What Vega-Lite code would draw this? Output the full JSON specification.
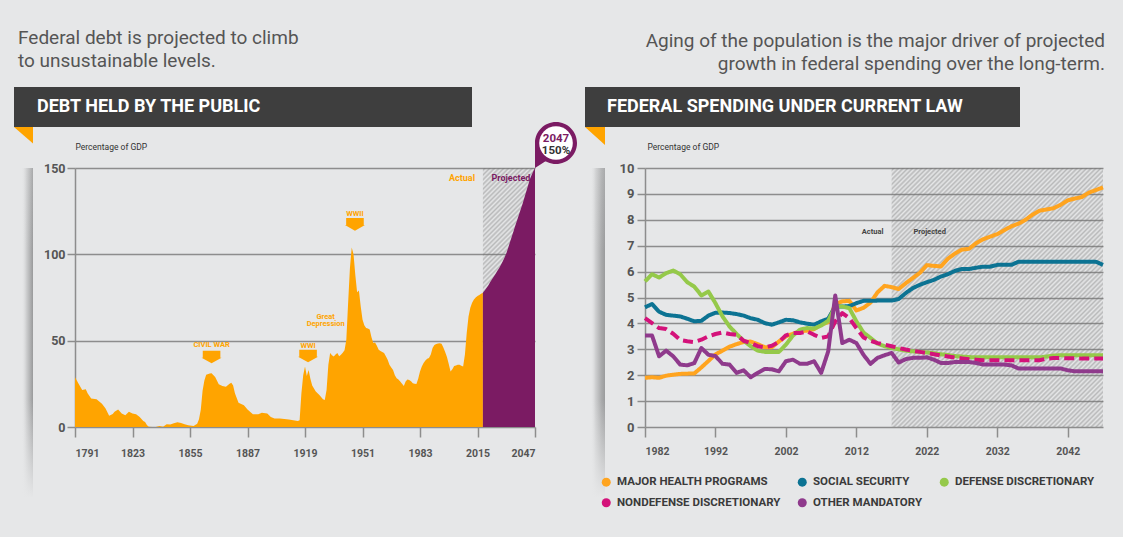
{
  "$schema": "https://vega.github.io/schema/vega-lite/v6.json",
  "background": "#e6e7e8",
  "padding": {"left": 14, "top": 28, "right": 18, "bottom": 28},
  "bounds": "flush",
  "spacing": 81,
  "resolve": {"scale": {"color": "independent", "strokeDash": "independent"}, "legend": {"color": "independent"}},
  "config": {
    "font": "Roboto",
    "view": {"stroke": null},
    "axis": {
      "domainColor": "#8d8d8d", "domainWidth": 1.5,
      "tickColor": "#8d8d8d", "tickWidth": 1.5,
      "gridColor": "#8d8d8d", "gridWidth": 1.5,
      "labelColor": "#555555", "labelFontWeight": "bold", "labelFont": "Roboto",
      "titleFont": "Roboto", "labelOverlap": false
    }
  },
  "datasets": {
    "debt": [
      {"year":1791,"value":28.8,"period":"Actual"},{"year":1793,"value":25,"period":"Actual"},{"year":1795,"value":21.5,"period":"Actual"},{"year":1797,"value":21.8,"period":"Actual"},{"year":1798,"value":19.5,"period":"Actual"},{"year":1800,"value":16.5,"period":"Actual"},{"year":1803,"value":16,"period":"Actual"},{"year":1806,"value":13.5,"period":"Actual"},{"year":1808,"value":10.7,"period":"Actual"},{"year":1810,"value":6.5,"period":"Actual"},{"year":1812,"value":7.5,"period":"Actual"},{"year":1813,"value":8.8,"period":"Actual"},{"year":1815,"value":10.1,"period":"Actual"},{"year":1817,"value":7.8,"period":"Actual"},{"year":1819,"value":6.8,"period":"Actual"},{"year":1821,"value":8.8,"period":"Actual"},{"year":1823,"value":7.8,"period":"Actual"},{"year":1825,"value":7.4,"period":"Actual"},{"year":1827,"value":5.8,"period":"Actual"},{"year":1829,"value":3.5,"period":"Actual"},{"year":1830,"value":2.9,"period":"Actual"},{"year":1831,"value":1.2,"period":"Actual"},{"year":1832,"value":0.2,"period":"Actual"},{"year":1834,"value":0,"period":"Actual"},{"year":1836,"value":0,"period":"Actual"},{"year":1838,"value":0.6,"period":"Actual"},{"year":1840,"value":0.1,"period":"Actual"},{"year":1842,"value":1.6,"period":"Actual"},{"year":1844,"value":1.4,"period":"Actual"},{"year":1846,"value":2.1,"period":"Actual"},{"year":1848,"value":2.7,"period":"Actual"},{"year":1850,"value":2.3,"period":"Actual"},{"year":1852,"value":1.6,"period":"Actual"},{"year":1854,"value":1,"period":"Actual"},{"year":1857,"value":0.6,"period":"Actual"},{"year":1859,"value":1.9,"period":"Actual"},{"year":1860,"value":4.5,"period":"Actual"},{"year":1861,"value":10,"period":"Actual"},{"year":1862,"value":21,"period":"Actual"},{"year":1863,"value":27,"period":"Actual"},{"year":1864,"value":30.2,"period":"Actual"},{"year":1866,"value":31,"period":"Actual"},{"year":1867,"value":31.1,"period":"Actual"},{"year":1869,"value":29,"period":"Actual"},{"year":1871,"value":24.8,"period":"Actual"},{"year":1873,"value":23.8,"period":"Actual"},{"year":1875,"value":23.3,"period":"Actual"},{"year":1877,"value":25,"period":"Actual"},{"year":1878,"value":25.7,"period":"Actual"},{"year":1879,"value":24,"period":"Actual"},{"year":1880,"value":19.5,"period":"Actual"},{"year":1882,"value":14,"period":"Actual"},{"year":1885,"value":12.6,"period":"Actual"},{"year":1887,"value":10.1,"period":"Actual"},{"year":1890,"value":7.4,"period":"Actual"},{"year":1893,"value":7.4,"period":"Actual"},{"year":1895,"value":8.2,"period":"Actual"},{"year":1898,"value":7.8,"period":"Actual"},{"year":1900,"value":5.8,"period":"Actual"},{"year":1902,"value":4.9,"period":"Actual"},{"year":1905,"value":4.9,"period":"Actual"},{"year":1910,"value":4.3,"period":"Actual"},{"year":1915,"value":3.5,"period":"Actual"},{"year":1916,"value":3.9,"period":"Actual"},{"year":1917,"value":19.5,"period":"Actual"},{"year":1918,"value":30,"period":"Actual"},{"year":1919,"value":35,"period":"Actual"},{"year":1920,"value":29.5,"period":"Actual"},{"year":1921,"value":33,"period":"Actual"},{"year":1922,"value":28,"period":"Actual"},{"year":1923,"value":24,"period":"Actual"},{"year":1925,"value":20.5,"period":"Actual"},{"year":1927,"value":18.5,"period":"Actual"},{"year":1929,"value":16,"period":"Actual"},{"year":1930,"value":15.6,"period":"Actual"},{"year":1931,"value":21.4,"period":"Actual"},{"year":1932,"value":36,"period":"Actual"},{"year":1933,"value":42.8,"period":"Actual"},{"year":1934,"value":41.5,"period":"Actual"},{"year":1935,"value":40.9,"period":"Actual"},{"year":1936,"value":42,"period":"Actual"},{"year":1937,"value":42.8,"period":"Actual"},{"year":1938,"value":41,"period":"Actual"},{"year":1939,"value":41.8,"period":"Actual"},{"year":1940,"value":43,"period":"Actual"},{"year":1941,"value":44.4,"period":"Actual"},{"year":1942,"value":50.6,"period":"Actual"},{"year":1943,"value":72,"period":"Actual"},{"year":1944,"value":92,"period":"Actual"},{"year":1945,"value":104,"period":"Actual"},{"year":1946,"value":100,"period":"Actual"},{"year":1947,"value":88,"period":"Actual"},{"year":1948,"value":78,"period":"Actual"},{"year":1949,"value":79,"period":"Actual"},{"year":1950,"value":70,"period":"Actual"},{"year":1951,"value":62.3,"period":"Actual"},{"year":1952,"value":59,"period":"Actual"},{"year":1953,"value":57.4,"period":"Actual"},{"year":1954,"value":57,"period":"Actual"},{"year":1955,"value":56.4,"period":"Actual"},{"year":1956,"value":52,"period":"Actual"},{"year":1957,"value":48.6,"period":"Actual"},{"year":1958,"value":49,"period":"Actual"},{"year":1959,"value":47,"period":"Actual"},{"year":1960,"value":44.7,"period":"Actual"},{"year":1961,"value":44,"period":"Actual"},{"year":1962,"value":43.5,"period":"Actual"},{"year":1963,"value":42.8,"period":"Actual"},{"year":1964,"value":41,"period":"Actual"},{"year":1965,"value":38.9,"period":"Actual"},{"year":1966,"value":36,"period":"Actual"},{"year":1967,"value":34.5,"period":"Actual"},{"year":1968,"value":33,"period":"Actual"},{"year":1969,"value":30,"period":"Actual"},{"year":1970,"value":28.2,"period":"Actual"},{"year":1971,"value":27.5,"period":"Actual"},{"year":1972,"value":26.3,"period":"Actual"},{"year":1973,"value":25,"period":"Actual"},{"year":1974,"value":23.7,"period":"Actual"},{"year":1975,"value":26.3,"period":"Actual"},{"year":1976,"value":27.5,"period":"Actual"},{"year":1977,"value":27.2,"period":"Actual"},{"year":1978,"value":26.5,"period":"Actual"},{"year":1979,"value":25.3,"period":"Actual"},{"year":1980,"value":25,"period":"Actual"},{"year":1981,"value":24.9,"period":"Actual"},{"year":1982,"value":28,"period":"Actual"},{"year":1983,"value":32.1,"period":"Actual"},{"year":1984,"value":35,"period":"Actual"},{"year":1985,"value":37,"period":"Actual"},{"year":1986,"value":38.5,"period":"Actual"},{"year":1987,"value":39.5,"period":"Actual"},{"year":1988,"value":40,"period":"Actual"},{"year":1989,"value":42,"period":"Actual"},{"year":1990,"value":45.7,"period":"Actual"},{"year":1991,"value":47.5,"period":"Actual"},{"year":1992,"value":48,"period":"Actual"},{"year":1993,"value":48.3,"period":"Actual"},{"year":1994,"value":48.5,"period":"Actual"},{"year":1995,"value":48.2,"period":"Actual"},{"year":1996,"value":46,"period":"Actual"},{"year":1997,"value":43.5,"period":"Actual"},{"year":1998,"value":40.5,"period":"Actual"},{"year":1999,"value":36.5,"period":"Actual"},{"year":2000,"value":32.1,"period":"Actual"},{"year":2001,"value":33.5,"period":"Actual"},{"year":2002,"value":35.4,"period":"Actual"},{"year":2003,"value":35.6,"period":"Actual"},{"year":2004,"value":36,"period":"Actual"},{"year":2005,"value":36,"period":"Actual"},{"year":2006,"value":35.5,"period":"Actual"},{"year":2007,"value":35,"period":"Actual"},{"year":2008,"value":42,"period":"Actual"},{"year":2009,"value":54.5,"period":"Actual"},{"year":2010,"value":64,"period":"Actual"},{"year":2011,"value":69,"period":"Actual"},{"year":2012,"value":72,"period":"Actual"},{"year":2013,"value":73.9,"period":"Actual"},{"year":2014,"value":75,"period":"Actual"},{"year":2015,"value":75.9,"period":"Actual"},{"year":2016,"value":76.5,"period":"Actual"},{"year":2017,"value":77.2,"period":"Actual"},{"year":2018,"value":77.8,"period":"Actual"},
      {"year":2018,"value":77.8,"period":"Projected"},{"year":2019,"value":79,"period":"Projected"},{"year":2020,"value":80.5,"period":"Projected"},{"year":2021,"value":82,"period":"Projected"},{"year":2022,"value":83.8,"period":"Projected"},{"year":2023,"value":85.4,"period":"Projected"},{"year":2024,"value":87,"period":"Projected"},{"year":2025,"value":88.6,"period":"Projected"},{"year":2026,"value":90.3,"period":"Projected"},{"year":2027,"value":92,"period":"Projected"},{"year":2028,"value":93.8,"period":"Projected"},{"year":2029,"value":95.8,"period":"Projected"},{"year":2030,"value":98,"period":"Projected"},{"year":2031,"value":100.5,"period":"Projected"},{"year":2032,"value":103.5,"period":"Projected"},{"year":2033,"value":106.8,"period":"Projected"},{"year":2034,"value":110,"period":"Projected"},{"year":2035,"value":113.2,"period":"Projected"},{"year":2036,"value":116.5,"period":"Projected"},{"year":2037,"value":119.6,"period":"Projected"},{"year":2038,"value":122.8,"period":"Projected"},{"year":2039,"value":126,"period":"Projected"},{"year":2040,"value":129,"period":"Projected"},{"year":2041,"value":132.5,"period":"Projected"},{"year":2042,"value":136,"period":"Projected"},{"year":2043,"value":139.5,"period":"Projected"},{"year":2044,"value":143,"period":"Projected"},{"year":2045,"value":145.7,"period":"Projected"},{"year":2046,"value":148,"period":"Projected"},{"year":2047,"value":150,"period":"Projected"}
    ],
    "spending": [
      {"year":1982,"health":1.90,"social":4.62,"defense":5.62,"nondefense":4.20,"other":3.53},
      {"year":1983,"health":1.92,"social":4.75,"defense":5.90,"nondefense":4.01,"other":3.53},
      {"year":1984,"health":1.90,"social":4.45,"defense":5.77,"nondefense":3.82,"other":2.73},
      {"year":1985,"health":1.98,"social":4.33,"defense":5.94,"nondefense":3.78,"other":2.95},
      {"year":1986,"health":2.02,"social":4.30,"defense":6.04,"nondefense":3.60,"other":2.73},
      {"year":1987,"health":2.05,"social":4.27,"defense":5.90,"nondefense":3.36,"other":2.41},
      {"year":1988,"health":2.06,"social":4.18,"defense":5.59,"nondefense":3.31,"other":2.38},
      {"year":1989,"health":2.07,"social":4.08,"defense":5.42,"nondefense":3.28,"other":2.47},
      {"year":1990,"health":2.30,"social":4.10,"defense":5.08,"nondefense":3.37,"other":3.05},
      {"year":1991,"health":2.55,"social":4.30,"defense":5.23,"nondefense":3.50,"other":2.79},
      {"year":1992,"health":2.80,"social":4.41,"defense":4.78,"nondefense":3.59,"other":2.74},
      {"year":1993,"health":2.95,"social":4.42,"defense":4.27,"nondefense":3.65,"other":2.44},
      {"year":1994,"health":3.10,"social":4.40,"defense":3.88,"nondefense":3.59,"other":2.41},
      {"year":1995,"health":3.20,"social":4.36,"defense":3.59,"nondefense":3.56,"other":2.09},
      {"year":1996,"health":3.28,"social":4.30,"defense":3.33,"nondefense":3.33,"other":2.19},
      {"year":1997,"health":3.30,"social":4.20,"defense":3.12,"nondefense":3.24,"other":1.92},
      {"year":1998,"health":3.20,"social":4.14,"defense":2.95,"nondefense":3.12,"other":2.09},
      {"year":1999,"health":3.08,"social":4.01,"defense":2.90,"nondefense":3.08,"other":2.24},
      {"year":2000,"health":3.08,"social":3.95,"defense":2.90,"nondefense":3.14,"other":2.23},
      {"year":2001,"health":3.30,"social":4.04,"defense":2.90,"nondefense":3.28,"other":2.15},
      {"year":2002,"health":3.50,"social":4.14,"defense":3.18,"nondefense":3.54,"other":2.54},
      {"year":2003,"health":3.60,"social":4.12,"defense":3.53,"nondefense":3.63,"other":2.60},
      {"year":2004,"health":3.70,"social":4.04,"defense":3.76,"nondefense":3.63,"other":2.44},
      {"year":2005,"health":3.72,"social":3.99,"defense":3.82,"nondefense":3.69,"other":2.44},
      {"year":2006,"health":3.78,"social":3.95,"defense":3.80,"nondefense":3.56,"other":2.54},
      {"year":2007,"health":3.95,"social":4.08,"defense":3.92,"nondefense":3.44,"other":2.09},
      {"year":2008,"health":4.05,"social":4.18,"defense":4.10,"nondefense":3.50,"other":2.92},
      {"year":2009,"health":4.75,"social":4.65,"defense":4.65,"nondefense":4.08,"other":5.08},
      {"year":2010,"health":4.85,"social":4.65,"defense":4.65,"nondefense":4.40,"other":3.24},
      {"year":2011,"health":4.87,"social":4.67,"defense":4.59,"nondefense":4.20,"other":3.37},
      {"year":2012,"health":4.50,"social":4.78,"defense":4.08,"nondefense":3.82,"other":3.24},
      {"year":2013,"health":4.60,"social":4.87,"defense":3.65,"nondefense":3.46,"other":2.79},
      {"year":2014,"health":4.80,"social":4.87,"defense":3.44,"nondefense":3.33,"other":2.44},
      {"year":2015,"health":5.20,"social":4.88,"defense":3.22,"nondefense":3.24,"other":2.67},
      {"year":2016,"health":5.45,"social":4.88,"defense":3.12,"nondefense":3.18,"other":2.77},
      {"year":2017,"health":5.40,"social":4.88,"defense":3.05,"nondefense":3.12,"other":2.86},
      {"year":2018,"health":5.33,"social":4.94,"defense":3.00,"nondefense":3.05,"other":2.49},
      {"year":2019,"health":5.55,"social":5.17,"defense":2.95,"nondefense":2.99,"other":2.62},
      {"year":2020,"health":5.75,"social":5.36,"defense":2.92,"nondefense":2.94,"other":2.67},
      {"year":2021,"health":5.95,"social":5.49,"defense":2.90,"nondefense":2.90,"other":2.67},
      {"year":2022,"health":6.25,"social":5.59,"defense":2.88,"nondefense":2.86,"other":2.69},
      {"year":2023,"health":6.22,"social":5.68,"defense":2.85,"nondefense":2.81,"other":2.60},
      {"year":2024,"health":6.20,"social":5.81,"defense":2.81,"nondefense":2.76,"other":2.47},
      {"year":2025,"health":6.50,"social":5.90,"defense":2.78,"nondefense":2.72,"other":2.47},
      {"year":2026,"health":6.70,"social":6.03,"defense":2.74,"nondefense":2.68,"other":2.51},
      {"year":2027,"health":6.85,"social":6.10,"defense":2.72,"nondefense":2.65,"other":2.51},
      {"year":2028,"health":6.88,"social":6.10,"defense":2.70,"nondefense":2.62,"other":2.51},
      {"year":2029,"health":7.10,"social":6.15,"defense":2.69,"nondefense":2.60,"other":2.47},
      {"year":2030,"health":7.25,"social":6.19,"defense":2.69,"nondefense":2.58,"other":2.41},
      {"year":2031,"health":7.35,"social":6.19,"defense":2.69,"nondefense":2.58,"other":2.41},
      {"year":2032,"health":7.45,"social":6.26,"defense":2.69,"nondefense":2.58,"other":2.41},
      {"year":2033,"health":7.60,"social":6.26,"defense":2.69,"nondefense":2.58,"other":2.41},
      {"year":2034,"health":7.75,"social":6.26,"defense":2.69,"nondefense":2.58,"other":2.38},
      {"year":2035,"health":7.85,"social":6.38,"defense":2.69,"nondefense":2.58,"other":2.26},
      {"year":2036,"health":8.00,"social":6.38,"defense":2.69,"nondefense":2.58,"other":2.26},
      {"year":2037,"health":8.20,"social":6.38,"defense":2.69,"nondefense":2.58,"other":2.26},
      {"year":2038,"health":8.35,"social":6.38,"defense":2.69,"nondefense":2.58,"other":2.26},
      {"year":2039,"health":8.40,"social":6.38,"defense":2.72,"nondefense":2.64,"other":2.26},
      {"year":2040,"health":8.45,"social":6.38,"defense":2.76,"nondefense":2.66,"other":2.26},
      {"year":2041,"health":8.58,"social":6.38,"defense":2.77,"nondefense":2.66,"other":2.26},
      {"year":2042,"health":8.75,"social":6.38,"defense":2.77,"nondefense":2.65,"other":2.19},
      {"year":2043,"health":8.82,"social":6.38,"defense":2.77,"nondefense":2.65,"other":2.15},
      {"year":2044,"health":8.88,"social":6.38,"defense":2.77,"nondefense":2.64,"other":2.15},
      {"year":2045,"health":9.05,"social":6.38,"defense":2.77,"nondefense":2.64,"other":2.15},
      {"year":2046,"health":9.15,"social":6.38,"defense":2.77,"nondefense":2.64,"other":2.15},
      {"year":2047,"health":9.25,"social":6.26,"defense":2.77,"nondefense":2.64,"other":2.15}
    ]
  },
  "vconcat": [
    {
      "hconcat": [
        {
          "width": 458, "height": 40,
          "view": {"fill": "#3e3e3e", "stroke": null},
          "title": {"text": ["Federal debt is projected to climb", "to unsustainable levels."], "anchor": "start", "frame": "group", "dx": 4, "offset": -3, "baseline": "bottom", "fontSize": 19, "fontWeight": "normal", "color": "#555555", "lineHeight": 23.3, "font": "Roboto"},
          "data": {"values": [{"label": "DEBT HELD BY THE PUBLIC"}]},
          "layer": [
            {"mark": {"type": "text", "align": "left", "baseline": "middle", "font": "Roboto", "fontWeight": "bold", "fontSize": 18, "color": "#ffffff"},
              "encoding": {"text": {"field": "label"}, "x": {"value": 23}, "y": {"value": 20}}},
            {"mark": {"type": "point", "filled": true, "opacity": 1, "color": "#ffa400", "size": 400, "shape": "M0,0 L1.9,0 L1.9,1.65 Z"},
              "encoding": {"x": {"value": 0}, "y": {"value": 40}}}
          ]
        },
        {
          "width": 435, "height": 40,
          "view": {"fill": "#3e3e3e", "stroke": null},
          "title": {"text": ["Aging of the population is the major driver of projected", "growth in federal spending over the long-term."], "anchor": "end", "align": "right", "frame": "group", "dx": 85, "offset": -6, "baseline": "bottom", "fontSize": 19, "fontWeight": "normal", "color": "#555555", "lineHeight": 23.3, "font": "Roboto"},
          "data": {"values": [{"label": "FEDERAL SPENDING UNDER CURRENT LAW"}]},
          "layer": [
            {"mark": {"type": "text", "align": "left", "baseline": "middle", "font": "Roboto", "fontWeight": "bold", "fontSize": 18, "color": "#ffffff"},
              "encoding": {"text": {"field": "label"}, "x": {"value": 22}, "y": {"value": 20}}},
            {"mark": {"type": "point", "filled": true, "opacity": 1, "color": "#ffa400", "size": 400, "shape": "M0,0 L2,0 L2,1.8 Z"},
              "encoding": {"x": {"value": 0}, "y": {"value": 40}}}
          ]
        }
      ],
      "spacing": 113,
      "bounds": "flush"
    },
    {
      "hconcat": [
        {
          "width": 61, "height": 330,
          "data": {"values": [{"part": "shadow"}]},
          "layer": [
            {"mark": {"type": "rect", "color": {"gradient": "linear", "x1": 0, "y1": 0, "x2": 1, "y2": 0, "stops": [
              {"offset": 0, "color": "rgba(230,231,232,0)"}, {"offset": 0.12, "color": "rgba(230,231,232,0)"},
              {"offset": 0.2, "color": "#cfd0d1"}, {"offset": 0.28, "color": "#a9aaab"}, {"offset": 0.305, "color": "#9c9d9e"},
              {"offset": 0.31, "color": "rgba(230,231,232,0)"}, {"offset": 1, "color": "rgba(230,231,232,0)"}]}}, "encoding": {}},
            {"mark": {"type": "rect", "color": {"gradient": "linear", "x1": 0, "y1": 0, "x2": 0, "y2": 1, "stops": [
              {"offset": 0, "color": "rgba(230,231,232,0.2)"}, {"offset": 0.25, "color": "rgba(230,231,232,0)"},
              {"offset": 0.7, "color": "rgba(230,231,232,0)"}, {"offset": 1, "color": "rgba(230,231,232,1)"}]}}, "encoding": {}}
          ]
        },
        {
          "width": 460, "height": 259,
          "encoding": {
            "x": {"field": "year", "type": "quantitative",
              "scale": {"domain": [1791, 2047], "nice": false, "zero": false},
              "axis": {"title": null, "values": [1791,1823,1855,1887,1919,1951,1983,2015,2047], "format": "d", "grid": false, "domain": false, "tickSize": 10, "labelPadding": 11, "labelFontSize": 10.5}},
            "y": {"field": "value", "type": "quantitative", "stack": null,
              "scale": {"domain": [0, 150], "nice": false},
              "axis": {"title": "Percentage of GDP", "values": [0,50,100,150], "grid": true, "tickSize": 8, "labelPadding": 2, "labelFontSize": 12.5,
                "titleAngle": 0, "titleAlign": "left", "titleBaseline": "alphabetic", "titleX": 0, "titleY": -19, "titleFontSize": 8.5, "titleFontWeight": "normal", "titleColor": "#333333"}}
          },
          "layer": [
            {
              "data": {"values": [{"year": 2018, "end": 2047, "value": 150, "low": 0}]},
              "mark": {"type": "rect", "opacity": 1, "color": {"gradient": "linear", "x1": 0, "y1": 0, "x2": 0.3511, "y2": 1.7456, "stops": [
{"offset":0,"color":"rgba(110,110,110,0)"},{"offset":0.005,"color":"rgba(110,110,110,0.38)"},{"offset":0.01,"color":"rgba(110,110,110,0)"},{"offset":0.015,"color":"rgba(110,110,110,0.38)"},{"offset":0.02,"color":"rgba(110,110,110,0)"},{"offset":0.025,"color":"rgba(110,110,110,0.38)"},{"offset":0.03,"color":"rgba(110,110,110,0)"},{"offset":0.035,"color":"rgba(110,110,110,0.38)"},{"offset":0.04,"color":"rgba(110,110,110,0)"},{"offset":0.045,"color":"rgba(110,110,110,0.38)"},
{"offset":0.05,"color":"rgba(110,110,110,0)"},{"offset":0.055,"color":"rgba(110,110,110,0.38)"},{"offset":0.06,"color":"rgba(110,110,110,0)"},{"offset":0.065,"color":"rgba(110,110,110,0.38)"},{"offset":0.07,"color":"rgba(110,110,110,0)"},{"offset":0.075,"color":"rgba(110,110,110,0.38)"},{"offset":0.08,"color":"rgba(110,110,110,0)"},{"offset":0.085,"color":"rgba(110,110,110,0.38)"},{"offset":0.09,"color":"rgba(110,110,110,0)"},{"offset":0.095,"color":"rgba(110,110,110,0.38)"},
{"offset":0.1,"color":"rgba(110,110,110,0)"},{"offset":0.105,"color":"rgba(110,110,110,0.38)"},{"offset":0.11,"color":"rgba(110,110,110,0)"},{"offset":0.115,"color":"rgba(110,110,110,0.38)"},{"offset":0.12,"color":"rgba(110,110,110,0)"},{"offset":0.125,"color":"rgba(110,110,110,0.38)"},{"offset":0.13,"color":"rgba(110,110,110,0)"},{"offset":0.135,"color":"rgba(110,110,110,0.38)"},{"offset":0.14,"color":"rgba(110,110,110,0)"},{"offset":0.145,"color":"rgba(110,110,110,0.38)"},
{"offset":0.15,"color":"rgba(110,110,110,0)"},{"offset":0.155,"color":"rgba(110,110,110,0.38)"},{"offset":0.16,"color":"rgba(110,110,110,0)"},{"offset":0.165,"color":"rgba(110,110,110,0.38)"},{"offset":0.17,"color":"rgba(110,110,110,0)"},{"offset":0.175,"color":"rgba(110,110,110,0.38)"},{"offset":0.18,"color":"rgba(110,110,110,0)"},{"offset":0.185,"color":"rgba(110,110,110,0.38)"},{"offset":0.19,"color":"rgba(110,110,110,0)"},{"offset":0.195,"color":"rgba(110,110,110,0.38)"},
{"offset":0.2,"color":"rgba(110,110,110,0)"},{"offset":0.205,"color":"rgba(110,110,110,0.38)"},{"offset":0.21,"color":"rgba(110,110,110,0)"},{"offset":0.215,"color":"rgba(110,110,110,0.38)"},{"offset":0.22,"color":"rgba(110,110,110,0)"},{"offset":0.225,"color":"rgba(110,110,110,0.38)"},{"offset":0.23,"color":"rgba(110,110,110,0)"},{"offset":0.235,"color":"rgba(110,110,110,0.38)"},{"offset":0.24,"color":"rgba(110,110,110,0)"},{"offset":0.245,"color":"rgba(110,110,110,0.38)"},
{"offset":0.25,"color":"rgba(110,110,110,0)"},{"offset":0.255,"color":"rgba(110,110,110,0.38)"},{"offset":0.26,"color":"rgba(110,110,110,0)"},{"offset":0.265,"color":"rgba(110,110,110,0.38)"},{"offset":0.27,"color":"rgba(110,110,110,0)"},{"offset":0.275,"color":"rgba(110,110,110,0.38)"},{"offset":0.28,"color":"rgba(110,110,110,0)"},{"offset":0.285,"color":"rgba(110,110,110,0.38)"},{"offset":0.29,"color":"rgba(110,110,110,0)"},{"offset":0.295,"color":"rgba(110,110,110,0.38)"},
{"offset":0.3,"color":"rgba(110,110,110,0)"},{"offset":0.305,"color":"rgba(110,110,110,0.38)"},{"offset":0.31,"color":"rgba(110,110,110,0)"},{"offset":0.315,"color":"rgba(110,110,110,0.38)"},{"offset":0.32,"color":"rgba(110,110,110,0)"},{"offset":0.325,"color":"rgba(110,110,110,0.38)"},{"offset":0.33,"color":"rgba(110,110,110,0)"},{"offset":0.335,"color":"rgba(110,110,110,0.38)"},{"offset":0.34,"color":"rgba(110,110,110,0)"},{"offset":0.345,"color":"rgba(110,110,110,0.38)"},
{"offset":0.35,"color":"rgba(110,110,110,0)"},{"offset":0.355,"color":"rgba(110,110,110,0.38)"},{"offset":0.36,"color":"rgba(110,110,110,0)"},{"offset":0.365,"color":"rgba(110,110,110,0.38)"},{"offset":0.37,"color":"rgba(110,110,110,0)"},{"offset":0.375,"color":"rgba(110,110,110,0.38)"},{"offset":0.38,"color":"rgba(110,110,110,0)"},{"offset":0.385,"color":"rgba(110,110,110,0.38)"},{"offset":0.39,"color":"rgba(110,110,110,0)"},{"offset":0.395,"color":"rgba(110,110,110,0.38)"},
{"offset":0.4,"color":"rgba(110,110,110,0)"},{"offset":0.405,"color":"rgba(110,110,110,0.38)"},{"offset":0.41,"color":"rgba(110,110,110,0)"},{"offset":0.415,"color":"rgba(110,110,110,0.38)"},{"offset":0.42,"color":"rgba(110,110,110,0)"},{"offset":0.425,"color":"rgba(110,110,110,0.38)"},{"offset":0.43,"color":"rgba(110,110,110,0)"},{"offset":0.435,"color":"rgba(110,110,110,0.38)"},{"offset":0.44,"color":"rgba(110,110,110,0)"},{"offset":0.445,"color":"rgba(110,110,110,0.38)"},
{"offset":0.45,"color":"rgba(110,110,110,0)"},{"offset":0.455,"color":"rgba(110,110,110,0.38)"},{"offset":0.46,"color":"rgba(110,110,110,0)"},{"offset":0.465,"color":"rgba(110,110,110,0.38)"},{"offset":0.47,"color":"rgba(110,110,110,0)"},{"offset":0.475,"color":"rgba(110,110,110,0.38)"},{"offset":0.48,"color":"rgba(110,110,110,0)"},{"offset":0.485,"color":"rgba(110,110,110,0.38)"},{"offset":0.49,"color":"rgba(110,110,110,0)"},{"offset":0.495,"color":"rgba(110,110,110,0.38)"},
{"offset":0.5,"color":"rgba(110,110,110,0)"},{"offset":0.505,"color":"rgba(110,110,110,0.38)"},{"offset":0.51,"color":"rgba(110,110,110,0)"},{"offset":0.515,"color":"rgba(110,110,110,0.38)"},{"offset":0.52,"color":"rgba(110,110,110,0)"},{"offset":0.525,"color":"rgba(110,110,110,0.38)"},{"offset":0.53,"color":"rgba(110,110,110,0)"},{"offset":0.535,"color":"rgba(110,110,110,0.38)"},{"offset":0.54,"color":"rgba(110,110,110,0)"},{"offset":0.545,"color":"rgba(110,110,110,0.38)"},
{"offset":0.55,"color":"rgba(110,110,110,0)"},{"offset":0.555,"color":"rgba(110,110,110,0.38)"},{"offset":0.56,"color":"rgba(110,110,110,0)"},{"offset":0.565,"color":"rgba(110,110,110,0.38)"},{"offset":0.57,"color":"rgba(110,110,110,0)"},{"offset":0.575,"color":"rgba(110,110,110,0.38)"},{"offset":0.58,"color":"rgba(110,110,110,0)"},{"offset":0.585,"color":"rgba(110,110,110,0.38)"},{"offset":0.59,"color":"rgba(110,110,110,0)"},{"offset":0.595,"color":"rgba(110,110,110,0.38)"},
{"offset":0.6,"color":"rgba(110,110,110,0)"},{"offset":0.605,"color":"rgba(110,110,110,0.38)"},{"offset":0.61,"color":"rgba(110,110,110,0)"},{"offset":0.615,"color":"rgba(110,110,110,0.38)"},{"offset":0.62,"color":"rgba(110,110,110,0)"},{"offset":0.625,"color":"rgba(110,110,110,0.38)"},{"offset":0.63,"color":"rgba(110,110,110,0)"},{"offset":0.635,"color":"rgba(110,110,110,0.38)"},{"offset":0.64,"color":"rgba(110,110,110,0)"},{"offset":0.645,"color":"rgba(110,110,110,0.38)"},
{"offset":0.65,"color":"rgba(110,110,110,0)"},{"offset":0.655,"color":"rgba(110,110,110,0.38)"},{"offset":0.66,"color":"rgba(110,110,110,0)"},{"offset":0.665,"color":"rgba(110,110,110,0.38)"},{"offset":0.67,"color":"rgba(110,110,110,0)"}
              ]}},
              "encoding": {"x2": {"field": "end"}, "y2": {"field": "low"}}
            },
            {
              "data": {"name": "debt"},
              "mark": {"type": "area", "interpolate": "linear"},
              "encoding": {
                "color": {"field": "period", "type": "nominal", "legend": null,
                  "scale": {"domain": ["Actual", "Projected"], "range": ["#ffa400", "#7b1b63"]}}
              }
            },
            {
              "data": {"values": [
                {"label": "CIVIL WAR", "year": 1867, "value": 47.5, "period": "Actual"},
                {"label": "WWI", "year": 1920.7, "value": 47.1, "period": "Actual"},
                {"label": "WWII", "year": 1946.8, "value": 123.4, "period": "Actual"},
                {"label": "Great", "year": 1930.5, "value": 63.9, "period": "Actual"},
                {"label": "Depression", "year": 1930.5, "value": 59.5, "period": "Actual"}
              ]},
              "mark": {"type": "text", "fontWeight": "bold", "fontSize": 7.5, "baseline": "middle"},
              "encoding": {
                "text": {"field": "label"},
                "color": {"field": "period", "type": "nominal", "legend": null}
              }
            },
            {
              "data": {"values": [
                {"event": "Civil War", "year": 1867, "value": 40.5},
                {"event": "WWI", "year": 1920.7, "value": 41.1},
                {"event": "WWII", "year": 1946.8, "value": 117.3}
              ]},
              "mark": {"type": "point", "filled": true, "opacity": 1, "color": "#ffa400", "size": 400,
                "shape": "M-0.88,-0.64 L0.88,-0.64 L0.88,0.06 L1,0.06 L0,0.63 L-1,0.06 L-0.88,0.06 Z"}
            },
            {
              "data": {"values": [
                {"label": "Actual", "year": 2006.4, "value": 144.2, "period": "Actual"},
                {"label": "Projected", "year": 2033.6, "value": 144.2, "period": "Projected"}
              ]},
              "mark": {"type": "text", "fontWeight": "bold", "fontSize": 9, "baseline": "middle"},
              "encoding": {
                "text": {"field": "label"},
                "color": {"field": "period", "type": "nominal", "legend": null}
              }
            },
            {
              "data": {"values": [{"year": 2047, "value": 150, "top": "2047", "bottom": "150%"}]},
              "layer": [
                {"mark": {"type": "point", "filled": true, "opacity": 1, "color": "#7b1b63", "size": 1764,
                  "shape": "M1,-2.19 A1,1 0 1,1 1,-0.19 A1,1 0 1,1 1,-2.19 Z M0,-1.19 L0.5,-0.324 L0,0 Z"}},
                {"mark": {"type": "point", "filled": true, "opacity": 1, "color": "#ffffff", "size": 1764,
                  "shape": "M1,-1.99 A0.8,0.8 0 1,1 1,-0.39 A0.8,0.8 0 1,1 1,-1.99 Z"}},
                {"mark": {"type": "text", "fontWeight": "bold", "fontSize": 11.5, "color": "#7b1b63", "dx": 21, "dy": -29, "baseline": "middle"},
                  "encoding": {"text": {"field": "top"}}},
                {"mark": {"type": "text", "fontWeight": "bold", "fontSize": 11.5, "color": "#333333", "dx": 21, "dy": -17, "baseline": "middle"},
                  "encoding": {"text": {"field": "bottom"}}}
              ]
            }
          ]
        },
        {"width": 50, "height": 10, "data": {"values": []}, "mark": "point", "encoding": {}},
        {
          "width": 30, "height": 330,
          "data": {"values": [{"part": "shadow"}]},
          "layer": [
            {"mark": {"type": "rect", "color": {"gradient": "linear", "x1": 0, "y1": 0, "x2": 1, "y2": 0, "stops": [
              {"offset": 0, "color": "rgba(230,231,232,0)"}, {"offset": 0.18, "color": "rgba(230,231,232,0)"},
              {"offset": 0.35, "color": "#cfd0d1"}, {"offset": 0.55, "color": "#a9aaab"}, {"offset": 0.65, "color": "#9c9d9e"},
              {"offset": 0.66, "color": "rgba(230,231,232,0)"}, {"offset": 1, "color": "rgba(230,231,232,0)"}]}}, "encoding": {}},
            {"mark": {"type": "rect", "color": {"gradient": "linear", "x1": 0, "y1": 0, "x2": 0, "y2": 1, "stops": [
              {"offset": 0, "color": "rgba(230,231,232,0.2)"}, {"offset": 0.25, "color": "rgba(230,231,232,0)"},
              {"offset": 0.7, "color": "rgba(230,231,232,0)"}, {"offset": 1, "color": "rgba(230,231,232,1)"}]}}, "encoding": {}}
          ]
        },
        {"width": 30, "height": 10, "data": {"values": []}, "mark": "point", "encoding": {}},
        {
          "width": 458, "height": 259,
          "encoding": {
            "x": {"field": "year", "type": "quantitative",
              "scale": {"domain": [1982, 2047], "nice": false, "zero": false},
              "axis": {"title": null, "values": [1982,1992,2002,2012,2022,2032,2042], "format": "d", "grid": false, "domain": false, "tickSize": 10, "labelPadding": 9, "labelFontSize": 10.5}},
            "y": {"field": "value", "type": "quantitative",
              "scale": {"domain": [0, 10], "nice": false},
              "axis": {"title": "Percentage of GDP", "values": [0,1,2,3,4,5,6,7,8,9,10], "grid": true, "tickSize": 8, "labelPadding": 3, "labelFontSize": 13,
                "titleAngle": 0, "titleAlign": "left", "titleBaseline": "alphabetic", "titleX": 2, "titleY": -19, "titleFontSize": 8.5, "titleFontWeight": "normal", "titleColor": "#333333"}}
          },
          "layer": [
            {
              "data": {"values": []},
              "mark": {"type": "point", "filled": true, "opacity": 1},
              "encoding": {
                "color": {"field": "series", "type": "nominal",
                  "scale": {"domain": ["health", "social", "defense", "nondefense", "other"], "range": ["#ffa41f", "#0c7393", "#95c94a", "#d4127a", "#8f3a8c"]},
                  "legend": {"orient": "none", "legendX": -44.5, "legendY": 308, "direction": "horizontal", "columns": 3, "title": null,
                    "symbolType": "circle", "symbolSize": 81, "symbolStrokeWidth": 0, "symbolOpacity": 1,
                    "labelFontSize": 11.5, "labelFontWeight": "bold", "labelColor": "#3a3a3a", "labelFont": "Roboto", "labelLimit": 400,
                    "columnPadding": 16, "rowPadding": 8, "labelOffset": 5, "gridAlign": "each",
                    "labelExpr": "datum.label == 'health' ? 'MAJOR HEALTH PROGRAMS' : datum.label == 'social' ? 'SOCIAL SECURITY' : datum.label == 'defense' ? 'DEFENSE DISCRETIONARY' : datum.label == 'nondefense' ? 'NONDEFENSE DISCRETIONARY' : 'OTHER MANDATORY'"}}
              }
            },
            {
              "data": {"values": [{"year": 2017, "end": 2047, "value": 10, "low": 0}]},
              "mark": {"type": "rect", "opacity": 1, "color": {"gradient": "linear", "x1": 0, "y1": 0, "x2": 0.8898, "y2": 1.0901, "stops": [
{"offset":0,"color":"rgba(110,110,110,0)"},{"offset":0.005,"color":"rgba(110,110,110,0.38)"},{"offset":0.01,"color":"rgba(110,110,110,0)"},{"offset":0.015,"color":"rgba(110,110,110,0.38)"},{"offset":0.02,"color":"rgba(110,110,110,0)"},{"offset":0.025,"color":"rgba(110,110,110,0.38)"},{"offset":0.03,"color":"rgba(110,110,110,0)"},{"offset":0.035,"color":"rgba(110,110,110,0.38)"},{"offset":0.04,"color":"rgba(110,110,110,0)"},{"offset":0.045,"color":"rgba(110,110,110,0.38)"},
{"offset":0.05,"color":"rgba(110,110,110,0)"},{"offset":0.055,"color":"rgba(110,110,110,0.38)"},{"offset":0.06,"color":"rgba(110,110,110,0)"},{"offset":0.065,"color":"rgba(110,110,110,0.38)"},{"offset":0.07,"color":"rgba(110,110,110,0)"},{"offset":0.075,"color":"rgba(110,110,110,0.38)"},{"offset":0.08,"color":"rgba(110,110,110,0)"},{"offset":0.085,"color":"rgba(110,110,110,0.38)"},{"offset":0.09,"color":"rgba(110,110,110,0)"},{"offset":0.095,"color":"rgba(110,110,110,0.38)"},
{"offset":0.1,"color":"rgba(110,110,110,0)"},{"offset":0.105,"color":"rgba(110,110,110,0.38)"},{"offset":0.11,"color":"rgba(110,110,110,0)"},{"offset":0.115,"color":"rgba(110,110,110,0.38)"},{"offset":0.12,"color":"rgba(110,110,110,0)"},{"offset":0.125,"color":"rgba(110,110,110,0.38)"},{"offset":0.13,"color":"rgba(110,110,110,0)"},{"offset":0.135,"color":"rgba(110,110,110,0.38)"},{"offset":0.14,"color":"rgba(110,110,110,0)"},{"offset":0.145,"color":"rgba(110,110,110,0.38)"},
{"offset":0.15,"color":"rgba(110,110,110,0)"},{"offset":0.155,"color":"rgba(110,110,110,0.38)"},{"offset":0.16,"color":"rgba(110,110,110,0)"},{"offset":0.165,"color":"rgba(110,110,110,0.38)"},{"offset":0.17,"color":"rgba(110,110,110,0)"},{"offset":0.175,"color":"rgba(110,110,110,0.38)"},{"offset":0.18,"color":"rgba(110,110,110,0)"},{"offset":0.185,"color":"rgba(110,110,110,0.38)"},{"offset":0.19,"color":"rgba(110,110,110,0)"},{"offset":0.195,"color":"rgba(110,110,110,0.38)"},
{"offset":0.2,"color":"rgba(110,110,110,0)"},{"offset":0.205,"color":"rgba(110,110,110,0.38)"},{"offset":0.21,"color":"rgba(110,110,110,0)"},{"offset":0.215,"color":"rgba(110,110,110,0.38)"},{"offset":0.22,"color":"rgba(110,110,110,0)"},{"offset":0.225,"color":"rgba(110,110,110,0.38)"},{"offset":0.23,"color":"rgba(110,110,110,0)"},{"offset":0.235,"color":"rgba(110,110,110,0.38)"},{"offset":0.24,"color":"rgba(110,110,110,0)"},{"offset":0.245,"color":"rgba(110,110,110,0.38)"},
{"offset":0.25,"color":"rgba(110,110,110,0)"},{"offset":0.255,"color":"rgba(110,110,110,0.38)"},{"offset":0.26,"color":"rgba(110,110,110,0)"},{"offset":0.265,"color":"rgba(110,110,110,0.38)"},{"offset":0.27,"color":"rgba(110,110,110,0)"},{"offset":0.275,"color":"rgba(110,110,110,0.38)"},{"offset":0.28,"color":"rgba(110,110,110,0)"},{"offset":0.285,"color":"rgba(110,110,110,0.38)"},{"offset":0.29,"color":"rgba(110,110,110,0)"},{"offset":0.295,"color":"rgba(110,110,110,0.38)"},
{"offset":0.3,"color":"rgba(110,110,110,0)"},{"offset":0.305,"color":"rgba(110,110,110,0.38)"},{"offset":0.31,"color":"rgba(110,110,110,0)"},{"offset":0.315,"color":"rgba(110,110,110,0.38)"},{"offset":0.32,"color":"rgba(110,110,110,0)"},{"offset":0.325,"color":"rgba(110,110,110,0.38)"},{"offset":0.33,"color":"rgba(110,110,110,0)"},{"offset":0.335,"color":"rgba(110,110,110,0.38)"},{"offset":0.34,"color":"rgba(110,110,110,0)"},{"offset":0.345,"color":"rgba(110,110,110,0.38)"},
{"offset":0.35,"color":"rgba(110,110,110,0)"},{"offset":0.355,"color":"rgba(110,110,110,0.38)"},{"offset":0.36,"color":"rgba(110,110,110,0)"},{"offset":0.365,"color":"rgba(110,110,110,0.38)"},{"offset":0.37,"color":"rgba(110,110,110,0)"},{"offset":0.375,"color":"rgba(110,110,110,0.38)"},{"offset":0.38,"color":"rgba(110,110,110,0)"},{"offset":0.385,"color":"rgba(110,110,110,0.38)"},{"offset":0.39,"color":"rgba(110,110,110,0)"},{"offset":0.395,"color":"rgba(110,110,110,0.38)"},
{"offset":0.4,"color":"rgba(110,110,110,0)"},{"offset":0.405,"color":"rgba(110,110,110,0.38)"},{"offset":0.41,"color":"rgba(110,110,110,0)"},{"offset":0.415,"color":"rgba(110,110,110,0.38)"},{"offset":0.42,"color":"rgba(110,110,110,0)"},{"offset":0.425,"color":"rgba(110,110,110,0.38)"},{"offset":0.43,"color":"rgba(110,110,110,0)"},{"offset":0.435,"color":"rgba(110,110,110,0.38)"},{"offset":0.44,"color":"rgba(110,110,110,0)"},{"offset":0.445,"color":"rgba(110,110,110,0.38)"},
{"offset":0.45,"color":"rgba(110,110,110,0)"},{"offset":0.455,"color":"rgba(110,110,110,0.38)"},{"offset":0.46,"color":"rgba(110,110,110,0)"},{"offset":0.465,"color":"rgba(110,110,110,0.38)"},{"offset":0.47,"color":"rgba(110,110,110,0)"},{"offset":0.475,"color":"rgba(110,110,110,0.38)"},{"offset":0.48,"color":"rgba(110,110,110,0)"},{"offset":0.485,"color":"rgba(110,110,110,0.38)"},{"offset":0.49,"color":"rgba(110,110,110,0)"},{"offset":0.495,"color":"rgba(110,110,110,0.38)"},
{"offset":0.5,"color":"rgba(110,110,110,0)"},{"offset":0.505,"color":"rgba(110,110,110,0.38)"},{"offset":0.51,"color":"rgba(110,110,110,0)"},{"offset":0.515,"color":"rgba(110,110,110,0.38)"},{"offset":0.52,"color":"rgba(110,110,110,0)"},{"offset":0.525,"color":"rgba(110,110,110,0.38)"},{"offset":0.53,"color":"rgba(110,110,110,0)"},{"offset":0.535,"color":"rgba(110,110,110,0.38)"},{"offset":0.54,"color":"rgba(110,110,110,0)"},{"offset":0.545,"color":"rgba(110,110,110,0.38)"},
{"offset":0.55,"color":"rgba(110,110,110,0)"},{"offset":0.555,"color":"rgba(110,110,110,0.38)"},{"offset":0.56,"color":"rgba(110,110,110,0)"},{"offset":0.565,"color":"rgba(110,110,110,0.38)"},{"offset":0.57,"color":"rgba(110,110,110,0)"},{"offset":0.575,"color":"rgba(110,110,110,0.38)"},{"offset":0.58,"color":"rgba(110,110,110,0)"},{"offset":0.585,"color":"rgba(110,110,110,0.38)"},{"offset":0.59,"color":"rgba(110,110,110,0)"},{"offset":0.595,"color":"rgba(110,110,110,0.38)"},
{"offset":0.6,"color":"rgba(110,110,110,0)"},{"offset":0.605,"color":"rgba(110,110,110,0.38)"},{"offset":0.61,"color":"rgba(110,110,110,0)"},{"offset":0.615,"color":"rgba(110,110,110,0.38)"},{"offset":0.62,"color":"rgba(110,110,110,0)"},{"offset":0.625,"color":"rgba(110,110,110,0.38)"},{"offset":0.63,"color":"rgba(110,110,110,0)"},{"offset":0.635,"color":"rgba(110,110,110,0.38)"},{"offset":0.64,"color":"rgba(110,110,110,0)"},{"offset":0.645,"color":"rgba(110,110,110,0.38)"},
{"offset":0.65,"color":"rgba(110,110,110,0)"},{"offset":0.655,"color":"rgba(110,110,110,0.38)"},{"offset":0.66,"color":"rgba(110,110,110,0)"},{"offset":0.665,"color":"rgba(110,110,110,0.38)"},{"offset":0.67,"color":"rgba(110,110,110,0)"},{"offset":0.675,"color":"rgba(110,110,110,0.38)"},{"offset":0.68,"color":"rgba(110,110,110,0)"},{"offset":0.685,"color":"rgba(110,110,110,0.38)"},{"offset":0.69,"color":"rgba(110,110,110,0)"},{"offset":0.695,"color":"rgba(110,110,110,0.38)"},
{"offset":0.7,"color":"rgba(110,110,110,0)"},{"offset":0.705,"color":"rgba(110,110,110,0.38)"},{"offset":0.71,"color":"rgba(110,110,110,0)"},{"offset":0.715,"color":"rgba(110,110,110,0.38)"},{"offset":0.72,"color":"rgba(110,110,110,0)"},{"offset":0.725,"color":"rgba(110,110,110,0.38)"},{"offset":0.73,"color":"rgba(110,110,110,0)"},{"offset":0.735,"color":"rgba(110,110,110,0.38)"},{"offset":0.74,"color":"rgba(110,110,110,0)"},{"offset":0.745,"color":"rgba(110,110,110,0.38)"},
{"offset":0.75,"color":"rgba(110,110,110,0)"},{"offset":0.755,"color":"rgba(110,110,110,0.38)"},{"offset":0.76,"color":"rgba(110,110,110,0)"},{"offset":0.765,"color":"rgba(110,110,110,0.38)"},{"offset":0.77,"color":"rgba(110,110,110,0)"},{"offset":0.775,"color":"rgba(110,110,110,0.38)"},{"offset":0.78,"color":"rgba(110,110,110,0)"},{"offset":0.785,"color":"rgba(110,110,110,0.38)"},{"offset":0.79,"color":"rgba(110,110,110,0)"},{"offset":0.795,"color":"rgba(110,110,110,0.38)"},
{"offset":0.8,"color":"rgba(110,110,110,0)"},{"offset":0.805,"color":"rgba(110,110,110,0.38)"},{"offset":0.81,"color":"rgba(110,110,110,0)"},{"offset":0.815,"color":"rgba(110,110,110,0.38)"},{"offset":0.82,"color":"rgba(110,110,110,0)"},{"offset":0.825,"color":"rgba(110,110,110,0.38)"},{"offset":0.83,"color":"rgba(110,110,110,0)"},{"offset":0.835,"color":"rgba(110,110,110,0.38)"},{"offset":0.84,"color":"rgba(110,110,110,0)"},{"offset":0.845,"color":"rgba(110,110,110,0.38)"},
{"offset":0.85,"color":"rgba(110,110,110,0)"},{"offset":0.855,"color":"rgba(110,110,110,0.38)"},{"offset":0.86,"color":"rgba(110,110,110,0)"},{"offset":0.865,"color":"rgba(110,110,110,0.38)"},{"offset":0.87,"color":"rgba(110,110,110,0)"},{"offset":0.875,"color":"rgba(110,110,110,0.38)"},{"offset":0.88,"color":"rgba(110,110,110,0)"},{"offset":0.885,"color":"rgba(110,110,110,0.38)"},{"offset":0.89,"color":"rgba(110,110,110,0)"},{"offset":0.895,"color":"rgba(110,110,110,0.38)"},
{"offset":0.9,"color":"rgba(110,110,110,0)"},{"offset":0.905,"color":"rgba(110,110,110,0.38)"},{"offset":0.91,"color":"rgba(110,110,110,0)"},{"offset":0.915,"color":"rgba(110,110,110,0.38)"},{"offset":0.92,"color":"rgba(110,110,110,0)"},{"offset":0.925,"color":"rgba(110,110,110,0.38)"},{"offset":0.93,"color":"rgba(110,110,110,0)"},{"offset":0.935,"color":"rgba(110,110,110,0.38)"},{"offset":0.94,"color":"rgba(110,110,110,0)"},{"offset":0.945,"color":"rgba(110,110,110,0.38)"},
{"offset":0.95,"color":"rgba(110,110,110,0)"},{"offset":0.955,"color":"rgba(110,110,110,0.38)"},{"offset":0.96,"color":"rgba(110,110,110,0)"},{"offset":0.965,"color":"rgba(110,110,110,0.38)"},{"offset":0.97,"color":"rgba(110,110,110,0)"},{"offset":0.975,"color":"rgba(110,110,110,0.38)"},{"offset":0.98,"color":"rgba(110,110,110,0)"},{"offset":0.985,"color":"rgba(110,110,110,0.38)"},{"offset":0.99,"color":"rgba(110,110,110,0)"},{"offset":0.995,"color":"rgba(110,110,110,0.38)"},
{"offset":1,"color":"rgba(110,110,110,0)"}
              ]}},
              "encoding": {"x2": {"field": "end"}, "y2": {"field": "low"}}
            },
            {
              "data": {"name": "spending"},
              "transform": [{"fold": ["health", "social", "defense", "nondefense", "other"], "as": ["series", "value"]}],
              "mark": {"type": "line", "strokeWidth": 4, "strokeJoin": "round"},
              "encoding": {
                "color": {"field": "series", "type": "nominal"},
                "strokeDash": {"field": "series", "type": "nominal", "legend": null,
                  "scale": {"domain": ["health", "social", "defense", "nondefense", "other"], "range": [[1, 0], [1, 0], [1, 0], [10, 5], [1, 0]]}}
              }
            },
            {
              "data": {"values": [
                {"label": "Actual", "year": 2014.3, "value": 7.53},
                {"label": "Projected", "year": 2022.4, "value": 7.53}
              ]},
              "mark": {"type": "text", "fontWeight": "bold", "fontSize": 7.5, "color": "#444444", "baseline": "middle"},
              "encoding": {"text": {"field": "label"}}
            }
          ]
        }
      ],
      "spacing": 0,
      "bounds": "flush",
      "resolve": {"scale": {"color": "independent", "strokeDash": "independent"}, "legend": {"color": "independent"}}
    }
  ]
}
